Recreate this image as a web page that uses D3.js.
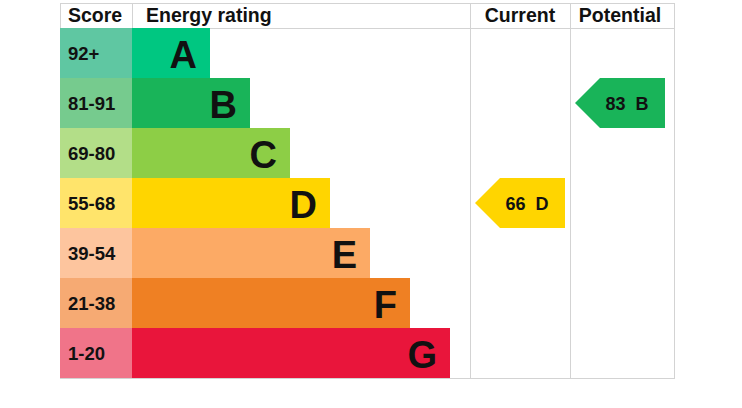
<!DOCTYPE html>
<html>
<head>
<meta charset="utf-8">
<script src="https://cdn.jsdelivr.net/npm/d3@7"></script>
<style>
  body { margin: 0; background: #fff; }
  svg { display: block; font-family: Arial, "Liberation Sans", sans-serif; }
</style>
</head>
<body>
<div id="epc"></div>
<script>
const bands = ["A", "B", "C", "D", "E", "F", "G"];
const scoreRanges = ["92+", "81-91", "69-80", "55-68", "39-54", "21-38", "1-20"];
const scoreMins = [92, 81, 69, 55, 39, 21, 1];
const bandColors = ["#00c781", "#19b459", "#8dce46", "#ffd500", "#fcaa65", "#ef8023", "#e9153b"];
const scoreColors = ["#5fc7a2", "#76cb8e", "#b3de88", "#ffe46b", "#fdc59e", "#f6aa73", "#f07489"];
const columns = ["Current", "Potential"];
const ratings = [66, 83]; // current, potential

const width = 742, height = 408;
const svg = d3.create("svg").attr("width", width).attr("height", height);

const left = 60, scoreRight = 132, right = 674;
const headerTop = 3, headerBottom = 28, bottom = 378;

const y = d3.scaleBand().domain(bands).range([headerBottom, bottom]);
const barEnd = d3.scaleLinear().domain([0, bands.length - 1]).range([210, 450]);
const colX = d3.scaleBand().domain(columns).range([470, 570 + (570 - 470)]);
const bandFor = s => bands[scoreMins.findIndex(m => s >= m)];

// grid lines
const grid = svg.append("g").attr("stroke", "#d3d3d3").attr("stroke-width", 1);
[headerTop, headerBottom, bottom].forEach(v => {
  grid.append("line").attr("x1", left).attr("x2", right + 1).attr("y1", v + 0.5).attr("y2", v + 0.5);
});
[left, 470, 570, right].forEach(v => {
  grid.append("line").attr("x1", v + 0.5).attr("x2", v + 0.5).attr("y1", headerTop).attr("y2", bottom + 1);
});
grid.append("line").attr("x1", scoreRight + 0.5).attr("x2", scoreRight + 0.5).attr("y1", headerTop).attr("y2", headerBottom);

// header
const head = svg.append("g").attr("font-weight", "bold").attr("font-size", 19.5).attr("fill", "#111");
head.append("text").attr("x", 68).attr("y", 22).text("Score");
head.append("text").attr("x", 146).attr("y", 22).text("Energy rating");
head.selectAll(".col").data(columns).join("text")
  .attr("x", d => colX(d) + colX.bandwidth() / 2)
  .attr("y", 22).attr("text-anchor", "middle").text(d => d);

// score cells
svg.append("g").selectAll("rect").data(bands).join("rect")
  .attr("x", left).attr("y", d => y(d))
  .attr("width", scoreRight - left).attr("height", y.bandwidth())
  .attr("fill", (d, i) => scoreColors[i]);
svg.append("g").attr("font-weight", "bold").attr("font-size", 18.5).attr("fill", "#111")
  .selectAll("text").data(bands).join("text")
  .attr("x", 68).attr("y", d => y(d) + y.bandwidth() / 2 + 6.5)
  .text((d, i) => scoreRanges[i]);

// rating bars
svg.append("g").selectAll("rect").data(bands).join("rect")
  .attr("x", scoreRight).attr("y", d => y(d))
  .attr("width", (d, i) => barEnd(i) - scoreRight).attr("height", y.bandwidth())
  .attr("fill", (d, i) => bandColors[i]);
svg.append("g").attr("font-weight", "bold").attr("font-size", 38).attr("fill", "#111")
  .attr("text-anchor", "end")
  .selectAll("text").data(bands).join("text")
  .attr("x", (d, i) => barEnd(i) - 13).attr("y", d => y(d) + y.bandwidth() / 2 + 15)
  .text(d => d);

// current / potential arrows
const arrows = svg.append("g").selectAll("g").data(columns).join("g");
arrows.append("path")
  .attr("d", (d, i) => {
    const b = bandFor(ratings[i]);
    const x0 = colX(d) + 5, x1 = colX(d) + 95, t = 25;
    const y0 = y(b), y1 = y(b) + y.bandwidth(), ym = (y0 + y1) / 2;
    return `M${x0},${ym}L${x0 + t},${y0}H${x1}V${y1}H${x0 + t}Z`;
  })
  .attr("fill", (d, i) => bandColors[bands.indexOf(bandFor(ratings[i]))]);
arrows.append("text")
  .attr("x", d => colX(d) + 57)
  .attr("y", (d, i) => y(bandFor(ratings[i])) + y.bandwidth() / 2 + 6.5)
  .attr("text-anchor", "middle").attr("font-weight", "bold").attr("font-size", 18).attr("fill", "#111")
  .attr("xml:space", "preserve").style("white-space", "pre")
  .text((d, i) => `${ratings[i]}  ${bandFor(ratings[i])}`);

d3.select("#epc").node().appendChild(svg.node());
</script>
</body>
</html>
